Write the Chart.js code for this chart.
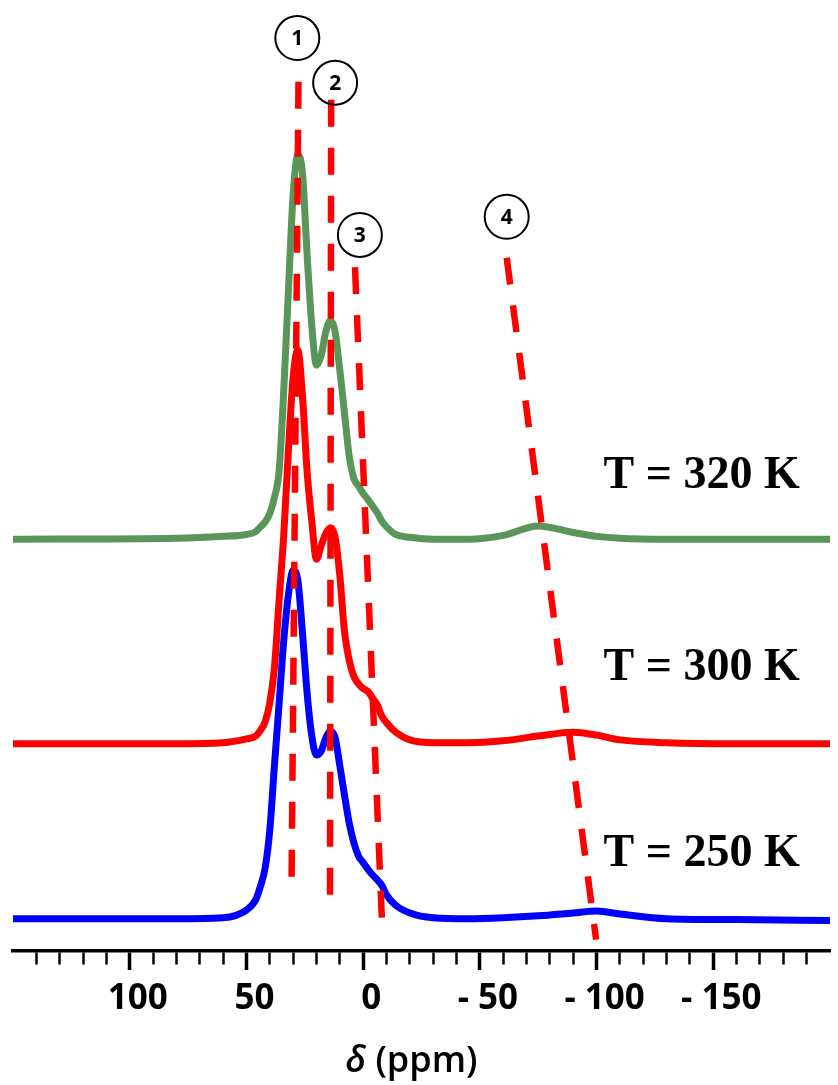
<!DOCTYPE html>
<html>
<head>
<meta charset="utf-8">
<script src="https://cdn.jsdelivr.net/npm/chart.js@4.4.1/dist/chart.umd.min.js"></script>
<style>
  html, body { margin: 0; padding: 0; background: #fff; }
  #wrap { width: 838px; height: 1085px; }
</style>
</head>
<body>
<div id="wrap"><canvas id="nmrChart"></canvas></div>
<script>
// chemical shift grid (ppm) shared by the three spectra
const shiftPpm = [150, 80, 60, 50, 46, 44, 42, 40, 38, 36, 34, 32, 30, 28, 26, 24, 22, 20, 18, 16, 14, 12, 10, 8, 6, 4, 2, 0,
  -2, -4, -6, -8, -10, -14, -20, -30, -45, -60, -75, -90, -100, -110, -130, -160, -200];

// intensities (a.u.) above each trace's own baseline
const intensity320 = [0, 0.1, 0.3, 0.5, 0.8, 1.3, 1.8, 2.7, 4.4, 7.2, 15.7, 26.2, 36.2, 40.4, 38.5, 29.9, 22.5, 18.3, 19.3, 21.8, 23.0, 21.8, 17.8, 13.3, 8.8, 6.4, 5.6, 4.8,
  4.2, 3.5, 2.8, 1.9, 1.3, 0.5, 0.2, 0, 0, 0.4, 1.4, 0.7, 0.3, 0.1, 0, 0, 0];
const intensity300 = [0, 0, 0.1, 0.5, 0.8, 1.4, 2.3, 4.3, 8.0, 15.1, 22.0, 30.9, 38.5, 41.4, 36.6, 28.6, 23.4, 19.4, 20.8, 22.1, 22.7, 21.7, 17.7, 11.8, 8.8, 7.1, 6.3, 5.8,
  5.5, 4.8, 4.1, 2.9, 2.2, 1.2, 0.4, 0.1, 0.1, 0.3, 0.8, 1.2, 0.9, 0.4, 0.1, 0, 0];
const intensity250 = [0, 0, 0.1, 0.9, 2.0, 3.4, 5.3, 9.3, 16.1, 22.6, 29.3, 34.1, 36.6, 35.6, 30.1, 23.7, 19.2, 17.2, 17.6, 19.0, 19.7, 19.0, 16.1, 13.0, 10.1, 8.0, 6.6, 5.9,
  5.2, 4.6, 4.1, 3.5, 2.5, 1.4, 0.6, 0.1, 0, 0.1, 0.3, 0.6, 0.8, 0.5, 0, -0.1, -0.2];

// vertical stacking offsets of the traces (320 K, 300 K, 250 K)
const baselineOffset = [43.3, 21.8, 3.4];
const tempLabels = ['T = 320 K', 'T = 300 K', 'T = 250 K'];
const tempLabelPpm = -145;
const tempLabelY = [48.7, 28.5, 8.9];

const tickValues = [100, 50, 0, -50, -100, -150];
const tickLabels = ['100', '50', '0', '- 50', '- 100', '- 150'];

// dashed guide lines 1-4 (top point, bottom point)
const guideNames = ['1', '2', '3', '4'];
const guideTopPpm = [27.7, 13.7, 3.5, -61.5];
const guideTopY = [91.4, 89.5, 71.9, 72.9];
const guideBottomPpm = [30.7, 14.2, -8.0, -99.8];
const guideBottomY = [6.2, 5.7, 3.5, 1.2];
const guideLabelPpm = [28.2, 12.0, 1.4, -61.5];
const guideLabelY = [96.0, 91.3, 75.3, 77.2];

const traceColors = ['#5A955A', '#FF0000', '#0000FF'];
const traces = [intensity320, intensity300, intensity250];

function spectrum(vals, offset) {
  return shiftPpm.map((p, i) => ({ x: p, y: vals[i] + offset }));
}

const datasets = [];
guideNames.forEach((n, i) => {
  datasets.push({
    label: 'guide ' + n,
    data: [{ x: guideTopPpm[i], y: guideTopY[i] }, { x: guideBottomPpm[i], y: guideBottomY[i] }],
    borderColor: '#FF0000',
    borderWidth: 6.5,
    borderDash: [27, 21],
    pointRadius: 0,
    order: 0
  });
});
// blue on top, then red, then green
[2, 1, 0].forEach((k, j) => {
  datasets.push({
    label: tempLabels[k],
    data: spectrum(traces[k], baselineOffset[k]),
    borderColor: traceColors[k],
    borderWidth: 7,
    pointRadius: 0,
    cubicInterpolationMode: 'monotone',
    borderCapStyle: 'round',
    borderJoinStyle: 'round',
    order: 1 + j
  });
});

const overlay = {
  id: 'overlay',
  afterDatasetsDraw(chart) {
    const { ctx, scales: { x, y } } = chart;
    ctx.save();
    // circled guide numbers
    ctx.strokeStyle = '#000';
    ctx.fillStyle = '#000';
    ctx.lineWidth = 2;
    ctx.font = 'bold 21px "Open Sans"';
    ctx.textAlign = 'center';
    ctx.textBaseline = 'middle';
    guideNames.forEach((t, i) => {
      const px = x.getPixelForValue(guideLabelPpm[i]);
      const py = y.getPixelForValue(guideLabelY[i]);
      ctx.beginPath();
      ctx.arc(px, py, 22, 0, Math.PI * 2);
      ctx.stroke();
      ctx.fillText(t, px, py + 1);
    });
    // temperature labels
    ctx.font = 'bold 46px "Liberation Serif"';
    ctx.textBaseline = 'alphabetic';
    tempLabels.forEach((t, i) => {
      ctx.fillText(t, x.getPixelForValue(tempLabelPpm), y.getPixelForValue(tempLabelY[i]));
    });
    // axis title with italic delta
    const fItal = 'italic 600 36px "Open Sans"';
    const fReg = '600 36px "Open Sans"';
    ctx.font = fItal;
    const wD = ctx.measureText('δ').width;
    ctx.font = fReg;
    const wR = ctx.measureText(' (ppm)').width;
    const cx = (chart.chartArea.left + chart.chartArea.right) / 2 - 10;
    const by = x.bottom - 13;
    const x0 = cx - (wD + wR) / 2;
    ctx.textAlign = 'left';
    ctx.font = fItal;
    ctx.fillText('δ', x0, by);
    ctx.font = fReg;
    ctx.fillText(' (ppm)', x0 + wD, by);
    ctx.restore();
  }
};

new Chart(document.getElementById('nmrChart'), {
  type: 'line',
  data: { datasets: datasets },
  options: {
    responsive: true,
    maintainAspectRatio: false,
    animation: false,
    layout: { padding: { left: 13, right: 2, top: 0, bottom: 0 } },
    plugins: { legend: { display: false }, tooltip: { enabled: false } },
    scales: {
      x: {
        type: 'linear',
        min: -200,
        max: 150,
        reverse: true,
        afterFit: (scale) => { scale.height = 134; },
        border: { display: true, color: '#000', width: 3.5 },
        grid: {
          drawOnChartArea: false,
          tickLength: 19,
          tickColor: (c) => (c.tick && (c.tick.value === 150 || c.tick.value === -200)) ? 'rgba(0,0,0,0)' : '#000',
          tickWidth: (c) => (c.tick && c.tick.value % 50 === 0) ? 3.5 : 2.5,
          tickBorderDash: (c) => (c.tick && c.tick.value % 50 === 0) ? [] : [12, 100]
        },
        ticks: {
          stepSize: 10,
          autoSkip: false,
          maxRotation: 0,
          padding: 8,
          labelOffset: 8,
          color: '#000',
          font: { family: '"Open Sans"', size: 35, weight: 'bold' },
          callback: (v) => {
            const i = tickValues.indexOf(v);
            return i >= 0 ? tickLabels[i] : '';
          }
        }
      },
      y: { type: 'linear', min: 0, max: 100, display: false }
    }
  },
  plugins: [overlay]
});
</script>
</body>
</html>
